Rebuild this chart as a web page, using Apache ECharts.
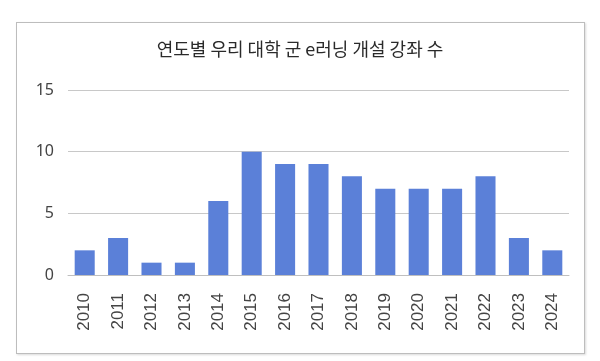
<!DOCTYPE html>
<html><head><meta charset="utf-8">
<script src="https://cdn.jsdelivr.net/npm/echarts@6/dist/echarts.min.js"></script>
<style>html,body{margin:0;padding:0;background:#fff;}
#frame{position:absolute;left:16px;top:22px;width:567px;height:330px;border:1px solid #bdbdbd;box-shadow:1px 1px 2px rgba(0,0,0,0.15);}
#c{position:absolute;left:0;top:0;width:600px;height:361px;}</style>
</head><body><div id="frame"></div><div id="c"></div>
<script>
const categories = ['2010','2011','2012','2013','2014','2015','2016','2017','2018','2019','2020','2021','2022','2023','2024'];
const values = [2,3,1,1,6,10,9,9,8,7,7,7,8,3,2];
const titleText = '연도별 우리 대학 군 e러닝 개설 강좌 수';
const chart = echarts.init(document.getElementById('c'));
chart.setOption({
  animation:false,
  title:{text:titleText,left:'center',top:35,textStyle:{fontFamily:'Noto Sans CJK KR',fontSize:18,fontWeight:'normal',color:'#2a2a2a'}},
  grid:{left:68,right:31,top:90,bottom:86},
  xAxis:{type:'category',data:categories,axisTick:{show:false},axisLine:{lineStyle:{color:'#bfbfbf'}},
    axisLabel:{rotate:90,fontSize:17,color:'#444',fontFamily:'Liberation Sans',margin:18}},
  yAxis:{type:'value',min:0,max:15,interval:5,axisLine:{show:false},axisTick:{show:false},
    splitLine:{lineStyle:{color:'#c8c8c8'}},axisLabel:{fontSize:16,color:'#444',fontFamily:'Noto Sans',margin:14}},
  series:[{type:'bar',data:values,barWidth:'60%',itemStyle:{color:'#5b80d8'}}]
});
</script></body></html>
